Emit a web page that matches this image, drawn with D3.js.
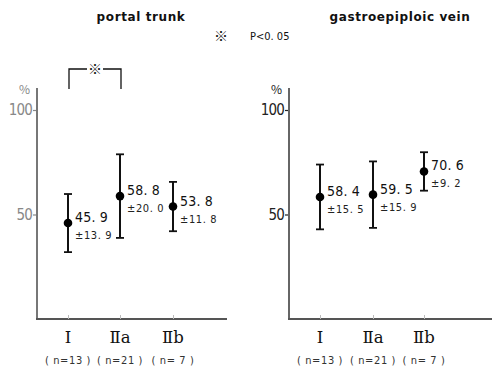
<!DOCTYPE html>
<html><head><meta charset="utf-8">
<script src="https://cdn.jsdelivr.net/npm/d3@7"></script>
<style>body{margin:0;background:#fff}svg{display:block}</style>
</head><body>
<svg id="chart" width="492" height="370"></svg>
<script>
const categories = ["Ⅰ", "Ⅱa", "Ⅱb"];
const sampleSizes = ["(n=13)", "(n=21)", "(n= 7)"];
const portalMean = [45.9, 58.8, 53.8];
const portalSD = [13.9, 20.0, 11.8];
const gastroMean = [58.4, 59.5, 70.6];
const gastroSD = [15.5, 15.9, 9.2];
const yTicks = [50, 100];
const titles = ["portal trunk", "gastroepiploic vein"];

const svg = d3.select("#chart");
const font = "'Noto Sans CJK JP', 'DejaVu Sans', sans-serif";
const numFont = "'DejaVu Sans Condensed', 'DejaVu Sans', sans-serif";
const fmt = d3.format(".1f");

const panels = [
  {title: titles[0], means: portalMean, sds: portalSD, axisX: 37, xEnd: 227,
   catX: [68, 120, 173], titleX: 141, axisColor: "#777", tickColor: "#888"},
  {title: titles[1], means: gastroMean, sds: gastroSD, axisX: 289, xEnd: 492,
   catX: [320, 373, 424], titleX: 400, axisColor: "#666", tickColor: "#222"}
];

const y = d3.scaleLinear().domain([0, 100]).range([319, 110]);

panels.forEach(p => {
  const g = svg.append("g");
  const x = d3.scaleOrdinal().domain(categories).range(p.catX);

  g.append("text").attr("x", p.titleX).attr("y", 21).attr("text-anchor", "middle")
    .attr("font-family", "'DejaVu Sans', sans-serif").attr("font-weight", "bold")
    .attr("font-size", 12).attr("letter-spacing", 0.6).attr("fill", "#111").text(p.title);

  // y axis
  const yAxis = d3.axisLeft(y).tickValues(yTicks).tickSize(4).tickPadding(1);
  const ya = g.append("g").attr("transform", `translate(${p.axisX},0)`).call(yAxis);
  ya.select(".domain").remove();
  ya.selectAll(".tick line").attr("stroke", p.tickColor).attr("stroke-width", 1.2);
  ya.selectAll(".tick text").attr("font-family", numFont)
    .attr("font-size", 15).attr("fill", p.tickColor).attr("letter-spacing", -0.8);
  g.append("line").attr("x1", p.axisX).attr("x2", p.axisX).attr("y1", 88).attr("y2", 320)
    .attr("stroke", p.axisColor).attr("stroke-width", 2);
  g.append("text").attr("x", p.axisX - 7).attr("y", 94).attr("text-anchor", "end")
    .attr("font-family", font).attr("font-size", 12).attr("fill", p.tickColor).text("%");

  // x axis
  g.append("line").attr("x1", p.axisX - 1).attr("x2", p.xEnd).attr("y1", 319).attr("y2", 319)
    .attr("stroke", "#555").attr("stroke-width", 2);
  const xAxis = d3.axisTop(x).tickSize(4).tickFormat("");
  const xa = g.append("g").attr("transform", "translate(0,319)").call(xAxis);
  xa.select(".domain").remove();
  xa.selectAll(".tick line").attr("stroke", "#bbb");

  g.selectAll(".cat").data(categories).join("text")
    .attr("x", d => x(d)).attr("y", 343).attr("text-anchor", "middle")
    .attr("font-family", "'DejaVu Serif', serif").attr("font-size", 16.5).attr("fill", "#111")
    .text(d => d);
  g.selectAll(".n").data(sampleSizes).join("text")
    .attr("x", (d, i) => x(categories[i])).attr("y", 364).attr("text-anchor", "middle")
    .attr("font-family", numFont).attr("font-size", 11).attr("letter-spacing", 0.6).attr("fill", "#333")
    .text(d => d.replace("(", "( ").replace(")", " )"));

  // error bars and means
  const rows = categories.map((c, i) => ({c, m: p.means[i], s: p.sds[i]}));
  const eb = g.selectAll(".eb").data(rows).join("g");
  eb.append("line").attr("x1", d => x(d.c)).attr("x2", d => x(d.c))
    .attr("y1", d => y(d.m + d.s)).attr("y2", d => y(d.m - d.s))
    .attr("stroke", "#111").attr("stroke-width", 2);
  [1, -1].forEach(sign => {
    eb.append("line").attr("x1", d => x(d.c) - 4).attr("x2", d => x(d.c) + 4)
      .attr("y1", d => y(d.m + sign * d.s)).attr("y2", d => y(d.m + sign * d.s))
      .attr("stroke", "#111").attr("stroke-width", 1.8);
  });
  eb.append("circle").attr("cx", d => x(d.c)).attr("cy", d => y(d.m)).attr("r", 4.3).attr("fill", "#000");
  eb.append("text").attr("x", d => x(d.c) + 7).attr("y", d => y(d.m) - 1)
    .attr("font-family", numFont).attr("font-size", 14).attr("fill", "#111")
    .attr("letter-spacing", 0.2)
    .text(d => fmt(d.m).replace(".", ". "));
  eb.append("text").attr("x", d => x(d.c) + 7).attr("y", d => y(d.m) + 16)
    .attr("font-family", numFont).attr("font-size", 11).attr("fill", "#222")
    .attr("letter-spacing", 0.6)
    .text(d => "±" + fmt(d.s).replace(".", ". "));

  // significance bracket between Ⅰ and Ⅱa (portal trunk)
  if (p === panels[0]) {
    const bx1 = x(categories[0]) + 1, bx2 = x(categories[1]) + 1;
    g.append("path").attr("d", `M${bx1},89V69H${bx2}V89`).attr("fill", "none")
      .attr("stroke", "#111").attr("stroke-width", 1.3);
    g.append("rect").attr("x", (bx1 + bx2) / 2 - 8).attr("y", 62).attr("width", 16).attr("height", 14).attr("fill", "#fff");
    g.append("text").attr("x", (bx1 + bx2) / 2).attr("y", 74).attr("text-anchor", "middle")
      .attr("font-family", font).attr("font-size", 14).attr("font-weight", "bold").attr("fill", "#111").text("※");
  }
});

svg.append("text").attr("x", 221).attr("y", 40.5).attr("text-anchor", "middle")
  .attr("font-family", font).attr("font-size", 14).attr("font-weight", "bold").attr("fill", "#111").text("※");
svg.append("text").attr("x", 250).attr("y", 40)
  .attr("font-family", numFont).attr("font-size", 11).attr("fill", "#111").text("P<0. 05");
</script>
</body></html>
